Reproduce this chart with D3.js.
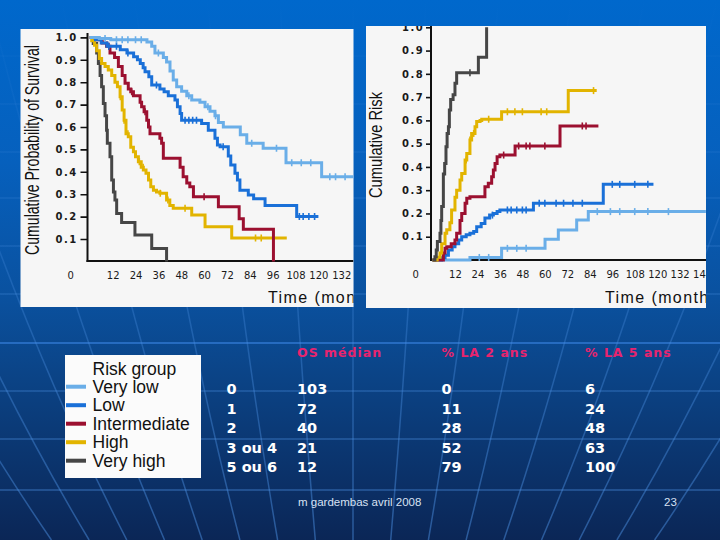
<!DOCTYPE html>
<html><head><meta charset="utf-8">
<script src="https://cdn.jsdelivr.net/npm/d3@7/dist/d3.min.js"></script>
<style>html,body{margin:0;padding:0;background:#0b3a7a;} svg{display:block}</style>
</head><body>
<script>
// ---------- DATA ----------
const riskGroups = ["Very low", "Low", "Intermediate", "High", "Very high"];
const legendTitle = "Risk group";

// Kaplan-Meier survival (left plot): [months, probability]
const survVeryLow = [[0,1],[5,0.995],[11,0.99],[30,0.98],[32.5,0.96],[34.2,0.93],[38.6,0.91],[40.3,0.89],[42.1,0.85],[43.8,0.81],[45.6,0.78],[48.2,0.76],[50.9,0.74],[53.5,0.72],[57.8,0.71],[60.5,0.69],[63.1,0.67],[65.7,0.65],[67.5,0.62],[70.1,0.60],[79,0.565],[82.4,0.527],[91,0.505],[103,0.44],[121.7,0.378],[140,0.378]];
const survLow = [[0,1],[3,0.99],[6,0.975],[9,0.96],[16,0.945],[19.5,0.93],[23,0.914],[25,0.9],[26.5,0.884],[28,0.865],[29,0.847],[31,0.824],[32.5,0.787],[36.8,0.77],[39,0.757],[41.2,0.74],[44.7,0.72],[46,0.69],[47.4,0.66],[48.2,0.63],[58.7,0.616],[62.2,0.586],[65.7,0.55],[67,0.52],[68.4,0.512],[72.7,0.47],[74,0.43],[76.2,0.393],[77.5,0.363],[78.8,0.318],[83.2,0.296],[86,0.28],[92,0.25],[108.6,0.2],[120,0.2]];
const survIntermediate = [[0,1],[4,0.99],[6.5,0.975],[8.8,0.96],[10.6,0.93],[13,0.91],[15,0.87],[17,0.83],[18.5,0.795],[20.2,0.77],[21.5,0.757],[22.9,0.74],[26.4,0.71],[27.2,0.69],[28.5,0.668],[29.9,0.63],[30.8,0.6],[31.6,0.57],[36.8,0.55],[37.7,0.527],[38.6,0.46],[47.4,0.42],[49,0.378],[50.9,0.35],[52.5,0.333],[54.4,0.289],[67.5,0.244],[78.4,0.19],[80.6,0.143],[96.4,0]];
const survHigh = [[0,1],[1,0.985],[2.5,0.965],[3.6,0.94],[5,0.906],[6.2,0.884],[8,0.87],[9.7,0.854],[11.5,0.83],[13.2,0.8],[14.5,0.78],[15.9,0.735],[17,0.676],[18,0.63],[19,0.57],[20.2,0.556],[21.5,0.51],[22.9,0.49],[24,0.467],[25.5,0.445],[27,0.42],[28.1,0.408],[29.5,0.393],[30.8,0.363],[32,0.333],[33.4,0.318],[35,0.31],[36.8,0.304],[40.3,0.274],[42,0.25],[43.8,0.237],[53.5,0.207],[60.5,0.155],[74.5,0.105],[103.4,0.105]];
const survVeryHigh = [[0,1],[1.8,0.973],[3.6,0.93],[4.5,0.884],[5.4,0.83],[6.2,0.78],[7.1,0.705],[8,0.65],[8.8,0.586],[9.2,0.527],[10.6,0.467],[11.5,0.363],[12.4,0.31],[13.2,0.274],[14.1,0.214],[16.7,0.174],[23.7,0.118],[32.5,0.058],[40.3,0]];

// Cumulative risk (right plot): [months, risk]
const riskVeryLow = [[0,0],[20,0.011],[36.9,0.05],[60.1,0.089],[67.2,0.129],[77,0.172],[83.2,0.208],[146,0.208]];
const riskLow = [[0,0],[4.9,0.01],[6.7,0.02],[8.5,0.043],[10.5,0.057],[12,0.07],[14,0.086],[15.6,0.1],[18,0.108],[20,0.115],[22,0.122],[23.6,0.143],[26,0.157],[28,0.18],[30.5,0.193],[32.5,0.2],[34.5,0.208],[36,0.215],[53.9,0.244],[91.2,0.325],[118,0.325]];
const riskIntermediate = [[0,0],[5.8,0.03],[6.7,0.05],[7.6,0.057],[10,0.07],[12,0.086],[12.9,0.115],[14.7,0.17],[15.6,0.2],[17.4,0.244],[18.3,0.265],[20,0.272],[28,0.315],[29.8,0.33],[31.6,0.358],[32.5,0.387],[33.4,0.415],[34.5,0.444],[36,0.451],[44.1,0.49],[68.1,0.576],[88.6,0.576]];
const riskHigh = [[0,0],[2.5,0.012],[4,0.03],[4.9,0.07],[6.7,0.115],[7.6,0.13],[9.3,0.16],[10.2,0.215],[12,0.27],[12.9,0.3],[14.7,0.344],[15.6,0.372],[17.4,0.43],[18.3,0.458],[20,0.516],[20.9,0.544],[22.7,0.573],[23.6,0.595],[25.4,0.6],[26.3,0.605],[36.9,0.637],[72.5,0.728],[87.7,0.728]];
const riskVeryHigh = [[0,0],[1.3,0.014],[2,0.043],[2.6,0.08],[4,0.115],[4.5,0.17],[4.9,0.23],[5.8,0.37],[6.5,0.415],[7.2,0.487],[7.8,0.544],[8.5,0.573],[9,0.645],[9.7,0.69],[11,0.71],[12,0.76],[12.9,0.805],[24.5,0.871],[28.9,1.0]];

// censored observations (months)
const censorSurvVeryLow = [8,14,17,20,24,27,36,52,62,66,85,98,106,111,116,126,129,134];
const censorSurvLow = [10,14,20,35,50,52,54,56,70,110,112,115,118];
const censorSurvIntermediate = [10,22,29,60];
const censorSurvHigh = [16,18,20,26,28,37,41,50,87,90];
const censorSurvVeryHigh = [];
const censorRiskVeryLow = [25,30,40,45,50,88,95,100,108,115,126];
const censorRiskLow = [32,40,42,45,48,50,57,60,66,70,75,80,96,100,108,115];
const censorRiskIntermediate = [38,46,50,52,60,80,82];
const censorRiskHigh = [18,20,22,30,40,44,48,58,61,86];
const censorRiskVeryHigh = [20];

const yTicks = [0.1,0.2,0.3,0.4,0.5,0.6,0.7,0.8,0.9,1.0];
const xTicksSurv = [0,12,24,36,48,60,72,84,96,108,120,132];
const xTicksRisk = [0,12,24,36,48,60,72,84,96,108,120,132,144];

// table
const tableHeaders = ["OS médian", "% LA 2 ans", "% LA 5 ans"];
const scoreLabels = ["0", "1", "2", "3 ou 4", "5 ou 6"];
const osMedian = [103, 72, 40, 21, 12];
const la2ans = [0, 11, 28, 52, 79];
const la5ans = [6, 24, 48, 63, 100];
const footerText = "m gardembas avril 2008";
const pageNumber = "23";

// ---------- STYLE ----------
const groupColors = ["#6aaee8", "#1a70d8", "#9c1030", "#e2b400", "#464646"];
const W = 720, H = 540;

const svg = d3.select("body").append("svg").attr("width", W).attr("height", H);
const defs = svg.append("defs");

const bg = defs.append("linearGradient").attr("id","bg").attr("x1",0).attr("y1",0).attr("x2",0).attr("y2",1);
[[0,"#0068cc"],[0.3,"#0660bd"],[0.55,"#0a519f"],[0.68,"#0b4589"],[1,"#0b2656"]].forEach(s=>bg.append("stop").attr("offset",s[0]).attr("stop-color",s[1]));
const lg = defs.append("linearGradient").attr("id","lg").attr("gradientUnits","userSpaceOnUse").attr("x1",0).attr("y1",0).attr("x2",0).attr("y2",540);
[[0,0],[0.35,0.2],[0.7,0.38],[1,0.5]].forEach(s=>lg.append("stop").attr("offset",s[0]).attr("stop-color","#4a8ee0").attr("stop-opacity",s[1]));

svg.append("rect").attr("width",W).attr("height",H).attr("fill","url(#bg)");

// decorative background grid
const deco = svg.append("g");
[56,104,152,198,246,294,391,439,490].forEach(yy=>{
  deco.append("line").attr("x1",0).attr("x2",W).attr("y1",yy).attr("y2",yy)
    .attr("stroke","url(#lg)").attr("stroke-width",1.5);
});
deco.append("line").attr("x1",0).attr("x2",W).attr("y1",343).attr("y2",343)
  .attr("stroke","#2d74cc").attr("stroke-width",2).attr("stroke-opacity",0.8);
d3.range(-8,9).forEach(i=>{
  const x320 = 353 + 52*i;
  const xt = 353 + (x320-353)*1.4, xb = 353 + (x320-353)*0.725;
  const xc = 353 + (x320-353)*1.12;
  deco.append("path").attr("d",`M${xt},0 Q${xc},300 ${xb},540`)
    .attr("fill","none").attr("stroke","url(#lg)").attr("stroke-width",1.5);
});

function stepValue(series, t){
  let v = series[0][1];
  for (const p of series){ if (p[0] <= t) v = p[1]; else break; }
  return v;
}

function drawPlot(cfg){
  const g = svg.append("g");
  g.append("rect").attr("x",cfg.panel[0]).attr("y",cfg.panel[1]).attr("width",cfg.panel[2]).attr("height",cfg.panel[3]).attr("fill","#f6f6f6");
  defs.append("clipPath").attr("id",cfg.id).append("rect")
    .attr("x",cfg.panel[0]).attr("y",cfg.panel[1]).attr("width",cfg.panel[2]).attr("height",cfg.panel[3]);
  const inner = g.append("g").attr("clip-path",`url(#${cfg.id})`);
  const x = d3.scaleLinear().domain([0,12]).range([cfg.x0, cfg.x0 + cfg.px12]);
  const y = d3.scaleLinear().domain([0,1]).range([cfg.y0, cfg.y1]);

  // y axis ticks
  const ya = inner.append("g").attr("transform",`translate(${cfg.axisX},0)`)
    .call(d3.axisLeft(y).tickValues(yTicks).tickSize(cfg.tick).tickPadding(cfg.tickPad).tickFormat(d3.format(".1f")));
  ya.select(".domain").remove();
  ya.selectAll(".tick line").attr("stroke","#111").attr("stroke-width",1.6);
  ya.selectAll(".tick text").attr("fill","#1a1a1a").style("font-family","'DejaVu Sans',sans-serif")
    .style("font-size","10px").style("font-weight","bold").style("letter-spacing","1.4px");

  // x axis labels
  const xa = inner.append("g").attr("transform",`translate(0,${cfg.axisY})`)
    .call(d3.axisBottom(x).tickValues(cfg.xTicks).tickSize(0).tickPadding(10.5).tickFormat(d3.format("d")));
  xa.select(".domain").remove();
  xa.selectAll(".tick").filter(d=>d===0).attr("transform",`translate(${cfg.zeroX},0)`);
  xa.selectAll(".tick text").attr("fill","#1a1a1a").style("font-family","'DejaVu Sans',sans-serif").style("font-size","10px");

  // axis lines
  inner.append("line").attr("x1",cfg.axisX).attr("x2",cfg.axisX).attr("y1",cfg.axisTop).attr("y2",cfg.axisY+1)
    .attr("stroke","#111").attr("stroke-width",2);
  inner.append("line").attr("x1",cfg.axisX-1).attr("x2",cfg.panel[0]+cfg.panel[2]).attr("y1",cfg.axisY).attr("y2",cfg.axisY)
    .attr("stroke","#111").attr("stroke-width",2);

  // curves
  const line = d3.line().x(d=>x(d[0])).y(d=>y(d[1])).curve(d3.curveStepAfter);
  cfg.order.forEach(i=>{
    const s = cfg.series[i];
    inner.append("path").datum(s).attr("d",line).attr("fill","none")
      .attr("stroke",groupColors[i]).attr("stroke-width",3).attr("stroke-linejoin","miter");
    inner.selectAll(null).data(cfg.censor[i]).enter().append("line")
      .attr("x1",d=>x(d)).attr("x2",d=>x(d))
      .attr("y1",d=>y(stepValue(s,d))-3.5).attr("y2",d=>y(stepValue(s,d))+3.5)
      .attr("stroke",groupColors[i]).attr("stroke-width",1.6);
  });

  // titles
  inner.append("text").attr("x",cfg.timeX).attr("y",cfg.timeY).text("Time (months)")
    .attr("fill","#111").style("font-family","'Liberation Sans',Arial,sans-serif").style("font-size","16px").style("letter-spacing","1.4px");
  g.append("text").attr("transform",`translate(${cfg.ylabX},${cfg.ylabY}) rotate(-90) scale(1,${cfg.ylabStretch})`)
    .attr("text-anchor","middle").text(cfg.ylab)
    .attr("fill","#111").style("font-family","'Liberation Sans',Arial,sans-serif").style("font-size",cfg.ylabSize);
}

drawPlot({
  id:"clipL", panel:[20.5,29,333,278], x0:89.8, px12:22.86, y0:261.4, y1:37.4,
  axisX:87.5, axisY:261, axisTop:33, tick:7, tickPad:3, zeroX:70.8,
  xTicks:xTicksSurv, series:[survVeryLow,survLow,survIntermediate,survHigh,survVeryHigh],
  censor:[censorSurvVeryLow,censorSurvLow,censorSurvIntermediate,censorSurvHigh,censorSurvVeryHigh],
  order:[4,3,2,1,0], timeX:268, timeY:302.5,
  ylab:"Cumulative Probability of Survival", ylabX:38.5, ylabY:150, ylabSize:"14.1px", ylabStretch:1.4
});
drawPlot({
  id:"clipR", panel:[366,26,340,282], x0:432.5, px12:22.47, y0:260, y1:27.3,
  axisX:431, axisY:260, axisTop:26, tick:5, tickPad:2, zeroX:415.7,
  xTicks:xTicksRisk, series:[riskVeryLow,riskLow,riskIntermediate,riskHigh,riskVeryHigh],
  censor:[censorRiskVeryLow,censorRiskLow,censorRiskIntermediate,censorRiskHigh,censorRiskVeryHigh],
  order:[0,1,2,3,4], timeX:605, timeY:303,
  ylab:"Cumulative Risk", ylabX:382, ylabY:145, ylabSize:"14.7px", ylabStretch:1.3
});

// legend
const leg = svg.append("g");
leg.append("rect").attr("x",65).attr("y",355).attr("width",136).attr("height",123).attr("fill","#fbfbfb");
const legFont = "'Liberation Sans',Arial,sans-serif";
leg.append("text").attr("x",92.5).attr("y",374.5).text(legendTitle).attr("fill","#111")
  .style("font-family",legFont).style("font-size","17.5px");
const legY = d3.scaleLinear().domain([0,4]).range([386.7,460.7]);
riskGroups.forEach((name,i)=>{
  leg.append("line").attr("x1",66).attr("x2",86).attr("y1",legY(i)).attr("y2",legY(i))
    .attr("stroke",groupColors[i]).attr("stroke-width",4);
  leg.append("text").attr("x",92.5).attr("y",legY(i)+6.2).text(name).attr("fill","#111")
    .style("font-family",legFont).style("font-size","17.5px");
});

// table
const tab = svg.append("g");
const colX = [226.5, 297, 441.5, 585];
const headFont = "'DejaVu Sans',sans-serif";
tableHeaders.forEach((h,i)=>{
  tab.append("text").attr("x",colX[i+1]).attr("y",357.3).text(h).attr("fill","#e8246e")
    .style("font-family",headFont).style("font-weight","bold").style("font-size","12.5px").style("letter-spacing","1px");
});
const rowY = d3.scaleLinear().domain([0,4]).range([394,472]);
[scoreLabels, osMedian, la2ans, la5ans].forEach((col,c)=>{
  col.forEach((v,r)=>{
    tab.append("text").attr("x",colX[c]).attr("y",rowY(r)).text(v).attr("fill","#ffffff")
      .style("font-family",headFont).style("font-weight","bold").style("font-size","14.5px");
  });
});

// footer
svg.append("text").attr("x",298).attr("y",506).text(footerText).attr("fill","#d8e2f4")
  .style("font-family","'Liberation Sans',Arial,sans-serif").style("font-size","11.5px");
svg.append("text").attr("x",664).attr("y",506).text(pageNumber).attr("fill","#d8e2f4")
  .style("font-family","'Liberation Sans',Arial,sans-serif").style("font-size","11.5px");
</script></body></html>
